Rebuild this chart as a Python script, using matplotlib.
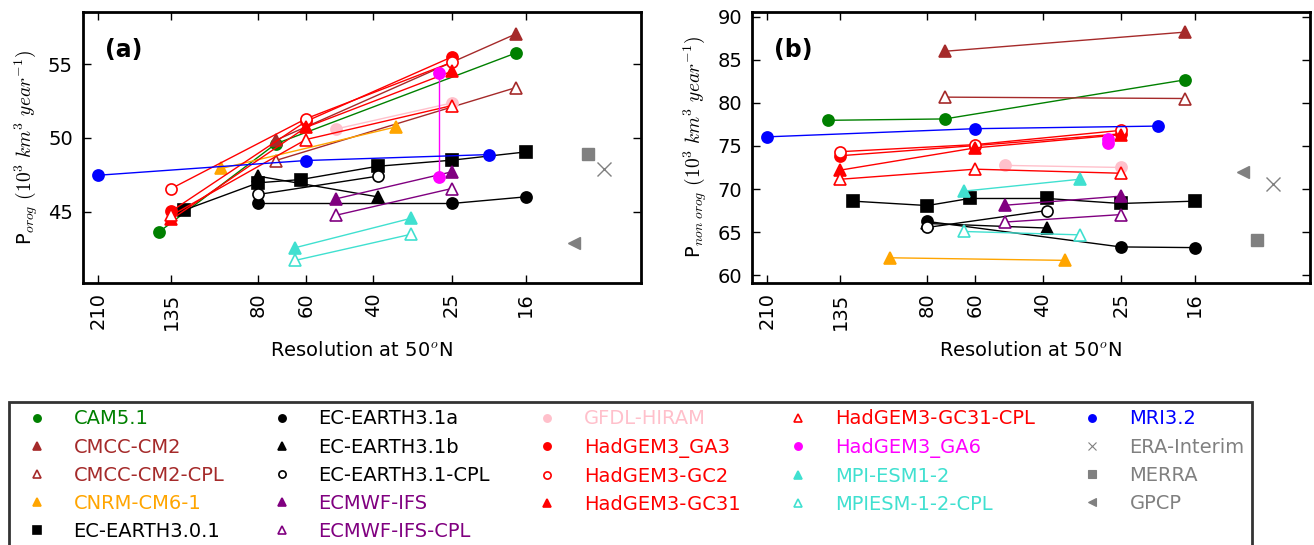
import matplotlib
matplotlib.use("Agg")
import matplotlib.pyplot as plt
from matplotlib.lines import Line2D
from matplotlib.ticker import FixedLocator, FixedFormatter, NullLocator

plt.rcParams["mathtext.fontset"] = "cm"
plt.rcParams["font.family"] = ["DejaVu Sans"]

# model names, in legend order
models = ["CAM5.1", "CMCC-CM2", "CMCC-CM2-CPL", "CNRM-CM6-1", "EC-EARTH3.0.1",
          "EC-EARTH3.1a", "EC-EARTH3.1b", "EC-EARTH3.1-CPL", "ECMWF-IFS",
          "ECMWF-IFS-CPL", "GFDL-HIRAM", "HadGEM3_GA3", "HadGEM3-GC2",
          "HadGEM3-GC31", "HadGEM3-GC31-CPL", "HadGEM3_GA6", "MPI-ESM1-2",
          "MPIESM-1-2-CPL", "MRI3.2"]
colors = ["green", "brown", "brown", "orange", "black",
          "black", "black", "black", "purple",
          "purple", "pink", "red", "red",
          "red", "red", "magenta", "turquoise",
          "turquoise", "blue"]
markers = ["o", "^", "^", "^", "s",
           "o", "^", "o", "^",
           "^", "o", "o", "o",
           "^", "^", "o", "^",
           "^", "o"]
filled = [True, True, False, True, True,
          True, True, False, True,
          False, True, True, False,
          True, False, True, True,
          False, True]

# resolution at 50N (km) for each model
resolution = [[145, 72, 17], [72, 17], [72, 17], [100, 35],
              [125, 80, 62, 39, 25, 16],
              [80, 25, 16], [80, 39], [80, 39], [50, 25],
              [50, 25], [50, 25], [135, 60, 25], [135, 60, 25],
              [135, 60, 25], [135, 60, 25], [27, 27], [64, 32],
              [64, 32], [210, 60, 20]]

# orographic precipitation (10^3 km^3/year)
p_orog = [[43.65, 49.6, 55.74], [49.84, 57.03], [48.47, 53.4], [47.93, 50.74],
          [45.11, 46.96, 47.18, 48.08, 48.49, 49.05],
          [45.56, 45.56, 46.01], [47.41, 46.01], [46.17, 47.41], [45.88, 47.7],
          [44.77, 46.57], [50.61, 52.36], [45.04, 51.12, 55.47], [46.57, 51.3, 55.11],
          [44.48, 50.72, 54.5], [44.75, 49.89, 52.18], [54.39, 47.36], [42.57, 44.55],
          [41.71, 43.47], [47.47, 48.47, 48.87]]

# non-orographic precipitation (10^3 km^3/year)
p_nonorog = [[77.97, 78.13, 82.66], [85.98, 88.2], [80.66, 80.5], [62.02, 61.72],
             [68.59, 68.08, 68.9, 68.9, 68.32, 68.59],
             [66.24, 63.28, 63.2], [66.0, 65.47], [65.54, 67.5], [68.12, 69.17],
             [66.17, 67.03], [72.74, 72.5], [73.86, 75.04, 76.4], [74.33, 75.15, 76.8],
             [72.19, 74.77, 76.3], [71.13, 72.3, 71.83], [75.8, 75.35], [69.76, 71.13],
             [65.07, 64.68], [76.05, 77.0, 77.3]]

# observations (plotted off to the right)
obs_names = ["ERA-Interim", "MERRA", "GPCP"]
obs_markers = ["x", "s", "<"]
obs_x = [10, 11, 12]
obs_orog = [47.9, 48.92, 42.9]
obs_nonorog = [70.55, 64.1, 72.03]

xticks = [210, 135, 80, 60, 40, 25, 16]

fig = plt.figure(figsize=(13.14, 5.45), dpi=100)
ax_a = fig.add_axes([0.0629, 0.4813, 0.4249, 0.4961])
ax_b = fig.add_axes([0.5721, 0.4813, 0.4249, 0.4961])


def draw(ax, values, obs_vals, ylabel, label, ylim, yticks):
    for i in range(len(models)):
        face = colors[i] if filled[i] else "white"
        ax.plot(resolution[i], values[i], color=colors[i], lw=1,
                marker=markers[i], ms=8, mfc=face, mec=colors[i], mew=1.2)
    for j in range(len(obs_names)):
        ms = 10 if obs_markers[j] == "x" else 8
        ax.plot(obs_x[j], obs_vals[j], ls="none", marker=obs_markers[j],
                color="grey", ms=ms, mew=1)
    ax.set_xscale("log")
    ax.set_xlim(230, 8)
    ax.xaxis.set_major_locator(FixedLocator(xticks))
    ax.xaxis.set_major_formatter(FixedFormatter([str(t) for t in xticks]))
    ax.xaxis.set_minor_locator(NullLocator())
    ax.set_ylim(*ylim)
    ax.set_yticks(yticks)
    ax.tick_params(direction="in", top=True, right=True, length=6, width=1,
                   labelsize=14, pad=7)
    for lab in ax.get_xticklabels():
        lab.set_rotation(90)
    for s in ax.spines.values():
        s.set_linewidth(2)
    ax.set_xlabel("Resolution at 50$^o$N", fontsize=14, labelpad=8)
    ax.set_ylabel(ylabel, fontsize=14, labelpad=6)
    ax.text(0.04, 0.86, label, transform=ax.transAxes, fontsize=17,
            fontweight="bold", va="center")


draw(ax_a, p_orog, obs_orog, "P$_{orog}$ $(10^3\\ km^3\\ year^{-1})$", "(a)",
     (40.2, 58.5), [45, 50, 55])
draw(ax_b, p_nonorog, obs_nonorog, "P$_{non\\ orog}$ $(10^3\\ km^3\\ year^{-1})$",
     "(b)", (59.13, 90.5), [60, 65, 70, 75, 80, 85, 90])

handles = []
labels = []
label_colors = []
for i in range(len(models)):
    face = colors[i] if filled[i] else "white"
    handles.append(Line2D([], [], ls="none", marker=markers[i], ms=8,
                          mfc=face, mec=colors[i], mew=1.2))
    labels.append(models[i])
    label_colors.append(colors[i])
for j in range(len(obs_names)):
    ms = 8 if obs_markers[j] == "x" else 8
    handles.append(Line2D([], [], ls="none", marker=obs_markers[j],
                          color="grey", ms=ms, mew=0.8))
    labels.append(obs_names[j])
    label_colors.append("grey")

leg = fig.legend(handles, labels, ncol=5, loc="upper left",
                 bbox_to_anchor=(9.3 / 1314, 1 - 401.7 / 545),
                 borderaxespad=0, fontsize=14, markerscale=0.65,
                 handlelength=2.0, handletextpad=0.9, columnspacing=1.95,
                 labelspacing=0.47, borderpad=0.4, fancybox=False,
                 frameon=True, numpoints=1)
leg.get_frame().set_edgecolor("black")
leg.get_frame().set_linewidth(2)
for t, c in zip(leg.get_texts(), label_colors):
    t.set_color(c)

fig.savefig("out.png", dpi=100)
